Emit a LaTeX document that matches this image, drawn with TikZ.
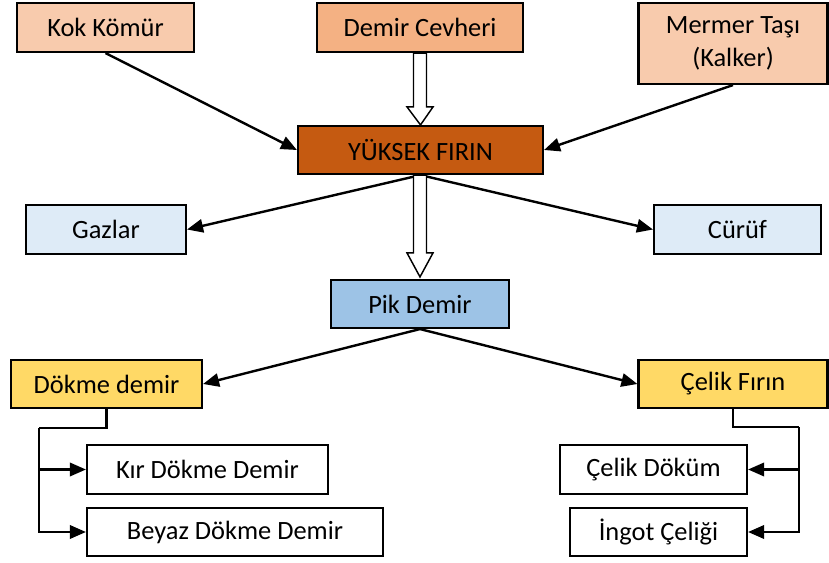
\documentclass[tikz,border=0pt]{standalone}
\usepackage{fontspec}
\setmainfont{Carlito}
\usetikzlibrary{arrows.meta,calc}
\definecolor{peachL}{HTML}{F8CBAD}
\definecolor{peachD}{HTML}{F4B183}
\definecolor{rust}{HTML}{C55A11}
\definecolor{paleblue}{HTML}{DEEBF7}
\definecolor{midblue}{HTML}{9DC3E6}
\definecolor{gold}{HTML}{FFD966}
\tikzset{
  box/.style={draw=black, line width=1.6pt, rectangle, inner sep=0pt, align=center,
    font=\fontsize{19.8}{25}\selectfont},
  arr/.style={draw=black, line width=1.8pt, -{Triangle[length=12pt,width=10pt]}},
  elbow/.style={draw=black, line width=1.8pt},
  hollowarr/.style={draw=black, line width=1.1pt, fill=white, line join=miter}
}
\begin{document}
\begin{tikzpicture}[x=0.75pt,y=-0.75pt]
\useasboundingbox (0,0) rectangle (829,563);
% nodes
\node[box, fill=peachL, minimum width=177*0.75pt, minimum height=49*0.75pt] (kok) at (105.5,27.5) {Kok Kömür};
\node[box, fill=peachD, minimum width=206*0.75pt, minimum height=49*0.75pt] (cev) at (420,27.5) {Demir Cevheri};
\node[box, fill=peachL, minimum width=189*0.75pt, minimum height=81*0.75pt] (mer) at (733,43.5) {Mermer Taşı\\(Kalker)};
\node[box, fill=rust, minimum width=245*0.75pt, minimum height=48*0.75pt] (yuk) at (420.5,150) {YÜKSEK FIRIN};
\node[box, fill=paleblue, minimum width=160*0.75pt, minimum height=49*0.75pt] (gaz) at (106,229.5) {Gazlar};
\node[box, fill=paleblue, minimum width=167*0.75pt, minimum height=49*0.75pt] (cur) at (737.5,229.5) {Cürüf};
\node[box, fill=midblue, minimum width=178*0.75pt, minimum height=48*0.75pt] (pik) at (420,304) {Pik Demir};
\node[box, fill=gold, minimum width=191*0.75pt, minimum height=48*0.75pt] (dok) at (106.5,384) {Dökme demir};
\node[box, fill=gold, minimum width=189*0.75pt, minimum height=48*0.75pt] (cel) at (733,384) {Çelik Fırın};
\node[box, fill=white, minimum width=241*0.75pt, minimum height=49*0.75pt] (kir) at (207.5,469.5) {Kır Dökme Demir};
\node[box, fill=white, minimum width=296*0.75pt, minimum height=48*0.75pt] (bey) at (235,532) {Beyaz Dökme Demir};
\node[box, fill=white, minimum width=187*0.75pt, minimum height=49*0.75pt] (celd) at (653.5,469.5) {Çelik Döküm};
\node[box, fill=white, minimum width=177*0.75pt, minimum height=48*0.75pt] (ing) at (658.5,532) {İngot Çeliği};
% straight arrows
\draw[arr] (kok.south) -- (yuk.west);
\draw[arr] (mer.south) -- (yuk.east);
\draw[arr] (yuk.south) -- (gaz.east);
\draw[arr] (yuk.south) -- (cur.west);
\draw[arr] (pik.south) -- (dok.east);
\draw[arr] (pik.south) -- (cel.west);
% hollow arrows
\draw[hollowarr] ($(cev.south)+(-6.5,0)$) -- ($(yuk.north)+(-7,-18)$) -- ($(yuk.north)+(-13.5,-18)$) -- (yuk.north)
  -- ($(yuk.north)+(12.5,-18)$) -- ($(yuk.north)+(6,-18)$) -- ($(cev.south)+(6.5,0)$) -- cycle;
\draw[hollowarr] ($(yuk.south)+(-7,0)$) -- ($(pik.north)+(-6.5,-26)$) -- ($(pik.north)+(-13,-26)$) -- ($(pik.north)+(0,-2)$)
  -- ($(pik.north)+(13,-26)$) -- ($(pik.north)+(6.5,-26)$) -- ($(yuk.south)+(6,0)$) -- cycle;
% elbow connectors left
\coordinate (dl) at (39,428);
\draw[elbow] (dok.south) |- (dl);
\draw[arr] (dl) |- (bey.west);
\draw[arr] (dl |- kir.west) -- (kir.west);
% elbow connectors right
\coordinate (cr) at (799,427);
\draw[elbow] (cel.south) |- (cr);
\draw[arr] (cr) |- (ing.east);
\draw[arr] (cr |- celd.east) -- (celd.east);
\end{tikzpicture}
\end{document}
